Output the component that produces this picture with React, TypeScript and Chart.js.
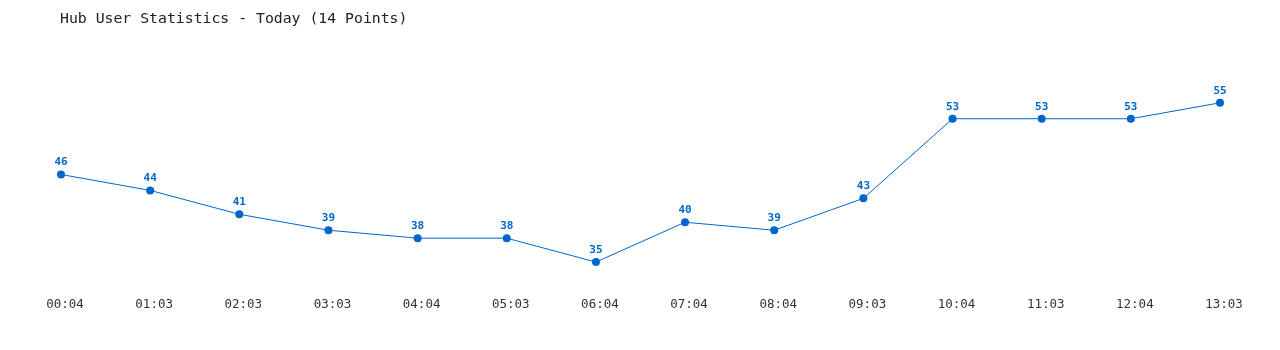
import React, { useEffect, useRef } from "react";
import { Chart, registerables } from "chart.js";

Chart.register(...registerables);

const categories = ["00:04", "01:03", "02:03", "03:03", "04:04", "05:03", "06:04", "07:04", "08:04", "09:03", "10:04", "11:03", "12:04", "13:03"];
const userCounts = [46, 44, 41, 39, 38, 38, 35, 40, 39, 43, 53, 53, 53, 55];
const chartTitle = "Hub User Statistics - Today (14 Points)";

const BLUE = "#0066cc";
const MONO = "'DejaVu Sans Mono', 'Liberation Mono', monospace";

const overlayPlugin = {
  id: "overlay",
  afterDatasetsDraw(chart: any) {
    const ctx = chart.ctx;
    ctx.save();
    // title
    ctx.fillStyle = "#222";
    ctx.font = `14.8px ${MONO}`;
    ctx.textAlign = "left";
    ctx.textBaseline = "middle";
    ctx.fillText(chartTitle, 52, 11);
    // data labels
    const meta = chart.getDatasetMeta(0);
    ctx.fillStyle = BLUE;
    ctx.font = `bold 11px ${MONO}`;
    ctx.textAlign = "center";
    meta.data.forEach((pt: any, i: number) => {
      ctx.fillText(String(userCounts[i]), pt.x, pt.y - 12);
    });
    ctx.restore();
  },
};

export default function App() {
  const ref = useRef<HTMLCanvasElement | null>(null);
  useEffect(() => {
    if (!ref.current) return;
    const chart = new Chart(ref.current, {
      type: "line",
      data: {
        labels: categories,
        datasets: [
          {
            data: userCounts,
            borderColor: BLUE,
            backgroundColor: BLUE,
            borderWidth: 1,
            pointRadius: 4,
            pointBackgroundColor: BLUE,
            pointBorderWidth: 0,
            tension: 0,
          },
        ],
      },
      options: {
        animation: false,
        responsive: false,
        layout: { padding: { left: 53, right: 52, top: 55, bottom: 0 } },
        plugins: { legend: { display: false }, title: { display: false }, tooltip: { enabled: false } },
        scales: {
          x: {
            offset: false,
            grid: { display: false, drawTicks: false },
            border: { display: false },
            ticks: { color: "#333", font: { family: MONO, size: 12.5 }, padding: 19, labelOffset: 4, maxRotation: 0, autoSkip: false },
            afterFit: (scale: any) => { scale.height = 64; },
          },
          y: {
            display: false,
            min: 33,
            max: 60,
          },
        },
      },
      plugins: [overlayPlugin],
    });
    return () => chart.destroy();
  }, []);
  return <canvas ref={ref} width={1264} height={334} style={{ display: "block" }} />;
}
